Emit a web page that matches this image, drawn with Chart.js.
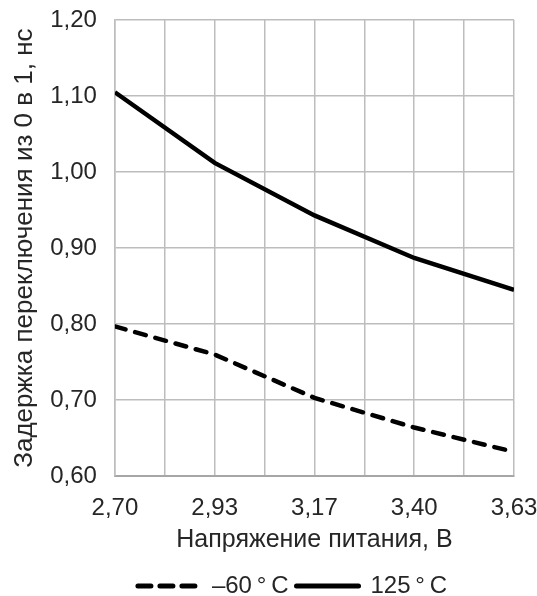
<!DOCTYPE html>
<html lang="ru">
<head>
  <meta charset="UTF-8">
  <title>Задержка переключения</title>
  <script src="https://cdn.jsdelivr.net/npm/chart.js"></script>
  <style>
    body { margin: 0; background: #fff; }
  </style>
</head>
<body>
  <canvas id="delayChart" width="537" height="596"></canvas>

  <script>
    // напряжение питания, В
    const voltages = ['2,70', '2,93', '3,17', '3,40', '3,63'];
    // задержка, нс
    const coldDelay = [0.797, 0.760, 0.703, 0.664, 0.632];   // -60 °C
    const hotDelay = [1.105, 1.012, 0.943, 0.887, 0.845];    // 125 °C
    const seriesNames = ['–60\u2009°\u2009C', '125\u2009°\u2009C'];

    const FONT = 'Liberation Sans, Arial, sans-serif';
    const TEXT = '#262626';
    const toPoints = arr => arr.map((v, i) => ({ x: i, y: v }));

    // legend sits a bit right of the canvas centre in the original
    const shiftLegend = {
      id: 'shiftLegend',
      afterLayout(chart) { chart.legend.left += 48; }
    };

    new Chart(document.getElementById('delayChart'), {
      type: 'line',
      data: {
        datasets: [
          {
            label: seriesNames[0],
            data: toPoints(coldDelay),
            borderColor: '#000',
            borderWidth: 4.5,
            borderDash: [11, 10],
            borderCapStyle: 'round',
            pointRadius: 0,
            tension: 0
          },
          {
            label: seriesNames[1],
            data: toPoints(hotDelay),
            borderColor: '#000',
            borderWidth: 4.5,
            pointRadius: 0,
            tension: 0
          }
        ]
      },
      plugins: [shiftLegend],
      options: {
        responsive: false,
        animation: false,
        layout: { padding: { left: 0, top: 0, right: 0, bottom: -12 } },
        plugins: {
          legend: {
            position: 'bottom',
            labels: {
              usePointStyle: true,
              pointStyleWidth: 62,
              padding: 8,
              color: TEXT,
              font: { family: FONT, size: 24 },
              generateLabels: chart => chart.data.datasets.map((ds, i) => ({
                text: ds.label,
                datasetIndex: i,
                pointStyle: 'line',
                strokeStyle: '#000',
                fillStyle: '#000',
                lineWidth: 5,
                lineCap: 'round',
                lineDash: ds.borderDash ? [13, 9] : [],
                fontColor: TEXT
              }))
            }
          },
          tooltip: { enabled: false }
        },
        scales: {
          x: {
            type: 'linear',
            min: 0,
            max: voltages.length - 1,
            afterFit: scale => { scale.paddingRight = 23; },
            grid: { color: '#bdbdbd', lineWidth: 1.5, drawTicks: false },
            border: { color: '#a6a6a6', width: 2 },
            ticks: {
              stepSize: 0.5,
              padding: 18,
              color: TEXT,
              font: { family: FONT, size: 24 },
              maxRotation: 0,
              autoSkip: false,
              callback: v => Number.isInteger(v) ? voltages[v] : ''
            },
            title: {
              display: true,
              text: 'Напряжение питания, В',
              color: TEXT,
              font: { family: FONT, size: 25 },
              padding: { top: -16, bottom: 11 }
            }
          },
          y: {
            min: 0.6,
            max: 1.2,
            afterFit: scale => { scale.paddingTop = 20; },
            grid: { color: '#bdbdbd', lineWidth: 1.5, drawTicks: false },
            border: { color: '#bdbdbd', width: 1.5 },
            ticks: {
              stepSize: 0.1,
              padding: 18,
              color: TEXT,
              font: { family: FONT, size: 24 },
              callback: v => v.toFixed(2).replace('.', ',')
            },
            title: {
              display: true,
              text: 'Задержка переключения из 0 в 1, нс',
              color: TEXT,
              font: { family: FONT, size: 26 },
              padding: { top: 9, bottom: -8 }
            }
          }
        }
      }
    });
  </script>
</body>
</html>
